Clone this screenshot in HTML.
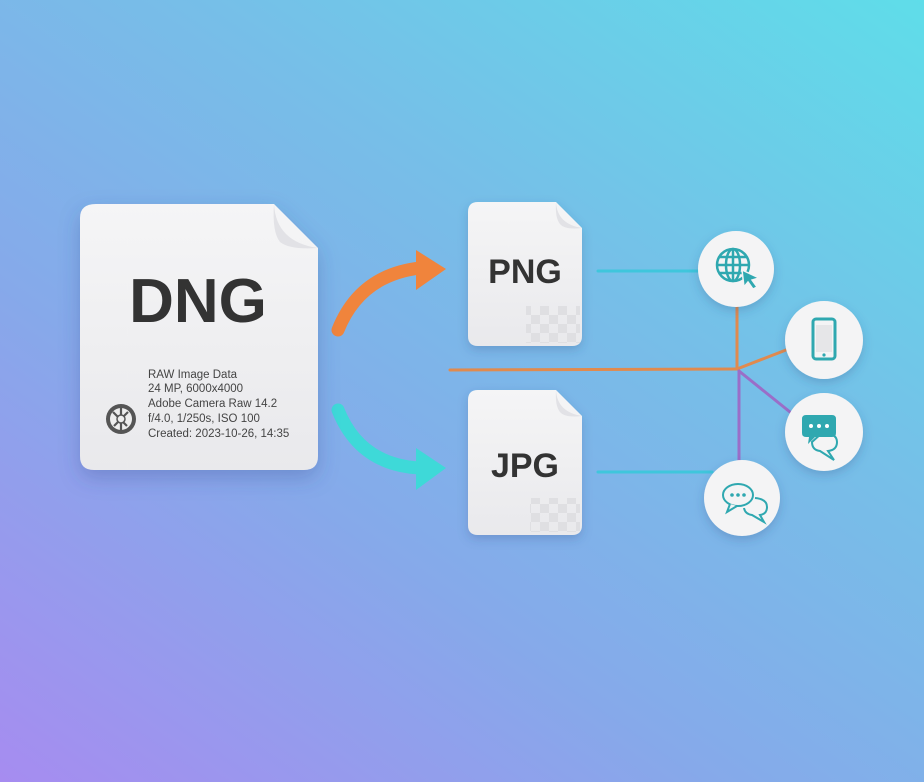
<!DOCTYPE html>
<html><head><meta charset="utf-8"><style>
html,body{margin:0;padding:0;width:924px;height:782px;overflow:hidden}
body{background:linear-gradient(215deg,#5fdde9 0%,#76bfe8 35%,#86a9ea 65%,#a68cf0 100%)}
svg{position:absolute;left:0;top:0}
text{font-family:"Liberation Sans",Arial,sans-serif}
</style></head><body>
<svg width="924" height="782" viewBox="0 0 924 782">
<defs>
<filter id="sh" x="-30%" y="-30%" width="160%" height="160%"><feDropShadow dx="0" dy="8" stdDeviation="10" flood-color="#3a4a90" flood-opacity="0.3"/></filter>
<filter id="sh2" x="-30%" y="-30%" width="160%" height="160%"><feDropShadow dx="0" dy="4" stdDeviation="5" flood-color="#2a4a80" flood-opacity="0.25"/></filter>
<linearGradient id="paper" x1="0" y1="0" x2="0" y2="1"><stop offset="0" stop-color="#f5f5f6"/><stop offset="1" stop-color="#e9e9ec"/></linearGradient>
<pattern id="chk" width="18" height="18" patternUnits="userSpaceOnUse"><rect width="9" height="9" fill="#dcdcdf"/><rect x="9" y="9" width="9" height="9" fill="#dcdcdf"/></pattern>
</defs>

<g stroke-linecap="round" fill="none">
<line x1="598" y1="271" x2="700" y2="271" stroke="#3fc6dc" stroke-width="3"/>
<line x1="598" y1="472" x2="712" y2="472" stroke="#3fc6dc" stroke-width="3"/>
<line x1="450" y1="370" x2="737" y2="369" stroke="#e08a4e" stroke-width="3"/>
<line x1="737" y1="306" x2="737" y2="369" stroke="#e08a4e" stroke-width="3"/>
<line x1="737" y1="369" x2="786" y2="350" stroke="#e08a4e" stroke-width="3"/>
<line x1="739" y1="371" x2="739" y2="462" stroke="#9a6ec8" stroke-width="3"/>
<line x1="739" y1="371" x2="790" y2="412" stroke="#9a6ec8" stroke-width="3"/>
</g>

<path d="M338 330 Q360 275 420 268" stroke="#f0843c" stroke-width="13" fill="none" stroke-linecap="round"/>
<polygon points="416,250 446,269 416,290" fill="#f0843c"/>
<path d="M338 410 Q360 465 420 468" stroke="#3ed9d8" stroke-width="13" fill="none" stroke-linecap="round"/>
<polygon points="416,448 446,468 416,490" fill="#3ed9d8"/>

<g filter="url(#sh)">
<path d="M96 204 H274 L318 248 V456 Q318 470 304 470 H94 Q80 470 80 456 V218 Q80 204 96 204 Z" fill="url(#paper)"/>
</g>
<path d="M274 204 Q276 242 318 248 Q290 250 280 242 Q272 232 274 204 Z" fill="#e2e2e6"/>
<text x="198" y="322" text-anchor="middle" font-size="62" font-weight="bold" fill="#333">DNG</text>
<g font-size="11.5" fill="#444">
<text x="148" y="378">RAW Image Data</text>
<text x="148" y="392">24 MP, 6000x4000</text>
<text x="148" y="407">Adobe Camera Raw 14.2</text>
<text x="148" y="422">f/4.0, 1/250s, ISO 100</text>
<text x="148" y="437">Created: 2023-10-26, 14:35</text>
</g>
<circle cx="121" cy="419" r="15" fill="#555"/>
<circle cx="121" cy="419" r="11" fill="#eee"/>
<g stroke="#555" stroke-width="2.2"><line x1="113" y1="412" x2="127" y2="426"/><line x1="128" y1="412" x2="114" y2="426"/><line x1="121" y1="408" x2="121" y2="430"/></g>
<circle cx="121" cy="419" r="4" fill="#eee" stroke="#555" stroke-width="1.5"/>

<g filter="url(#sh2)">
<path d="M478 202 H556 L582 228 V336 Q582 346 572 346 H478 Q468 346 468 336 V212 Q468 202 478 202 Z" fill="url(#paper)"/>
</g>
<path d="M556 202 Q557 224 582 228 Q565 230 560 224 Q555 218 556 202 Z" fill="#e2e2e6"/>
<rect x="526" y="306" width="54" height="37" fill="url(#chk)" opacity="0.8"/>
<text x="525" y="283" text-anchor="middle" font-size="34" font-weight="bold" fill="#333">PNG</text>

<g filter="url(#sh2)">
<path d="M478 390 H556 L582 416 V525 Q582 535 572 535 H478 Q468 535 468 525 V400 Q468 390 478 390 Z" fill="url(#paper)"/>
</g>
<path d="M556 390 Q557 412 582 416 Q565 418 560 412 Q555 406 556 390 Z" fill="#e2e2e6"/>
<rect x="530" y="498" width="50" height="34" fill="url(#chk)" opacity="0.8"/>
<text x="525" y="477" text-anchor="middle" font-size="34" font-weight="bold" fill="#333">JPG</text>

<g filter="url(#sh2)" fill="#f4f4f5">
<circle cx="736" cy="269" r="38"/>
<circle cx="824" cy="340" r="39"/>
<circle cx="824" cy="432" r="39"/>
<circle cx="742" cy="498" r="38"/>
</g>
<g stroke="#2fa8b0" stroke-width="2.5" fill="none">
<circle cx="733" cy="265" r="16"/>
<ellipse cx="733" cy="265" rx="7" ry="16"/>
<line x1="717" y1="265" x2="749" y2="265"/>
<line x1="720" y1="257" x2="746" y2="257"/>
<line x1="720" y1="273" x2="746" y2="273"/>
<line x1="733" y1="249" x2="733" y2="281"/>
</g>
<polygon points="742,270 759,278 752,280 757,287 753,289 748,282 744,287" fill="#2fa8b0" stroke="#f4f4f5" stroke-width="1.5"/>
<rect x="813" y="319" width="22" height="40" rx="3" fill="none" stroke="#2fa8b0" stroke-width="3"/>
<rect x="816" y="325" width="16" height="27" fill="#e6e6e8"/>
<circle cx="824" cy="355" r="1.6" fill="#2fa8b0"/>
<path d="M822 433 Q837 433 837 442 Q837 450 828 451 L834 460 L820 451 Q812 450 812 442 Z" fill="none" stroke="#2fa8b0" stroke-width="2"/>
<path d="M806 415 H832 Q836 415 836 419 V433 Q836 437 832 437 H815 L808 444 L809 437 H806 Q802 437 802 433 V419 Q802 415 806 415 Z" fill="#2fa8b0"/>
<g fill="#fff"><circle cx="811" cy="426" r="2"/><circle cx="819" cy="426" r="2"/><circle cx="827" cy="426" r="2"/></g>
<g fill="none" stroke="#2fa8b0" stroke-width="2">
<path d="M755 498 Q767 499 767 507 Q767 514 760 515 L764 522 L752 515 Q745 514 744 508"/>
<ellipse cx="738" cy="495" rx="15" ry="11" fill="#f4f4f5"/>
<path d="M730 504 L727 512 L737 506" fill="#f4f4f5"/>
</g>
<g fill="#2fa8b0"><circle cx="732" cy="495" r="1.8"/><circle cx="738" cy="495" r="1.8"/><circle cx="744" cy="495" r="1.8"/></g>
</svg>
</body></html>
